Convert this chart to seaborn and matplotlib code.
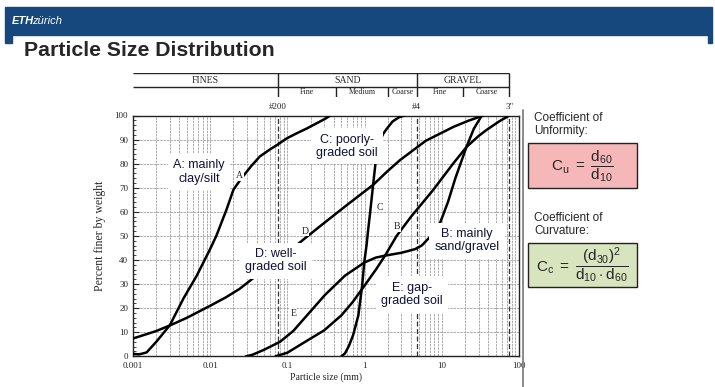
import matplotlib
matplotlib.use("Agg")
import matplotlib.pyplot as plt
import seaborn as sns
from matplotlib.patches import Rectangle
from matplotlib.lines import Line2D
from matplotlib.ticker import LogLocator, MultipleLocator, NullFormatter

# grain size curves (particle size in mm, percent finer by weight)
size_a = [0.001, 0.0012, 0.0015, 0.002, 0.003, 0.0045, 0.0067, 0.01, 0.012, 0.0163,
          0.02, 0.0255, 0.034, 0.044, 0.06, 0.073, 0.098, 0.13, 0.178, 0.24, 0.307, 0.36]
pct_a = [1.0, 0.8, 1.6, 6.0, 12.9, 24.0, 33.5, 44.6, 50.0, 61.0,
         69.2, 74.0, 79.0, 83.0, 86.0, 87.7, 90.5, 92.5, 94.6, 96.8, 98.6, 100]

size_b = [0.07, 0.1, 0.16, 0.3, 0.5, 0.7, 1.0, 1.4, 1.84, 2.6, 4.0, 7.7, 14, 21, 30, 38, 55, 75]
pct_b = [0, 1.5, 5.5, 10.8, 17.0, 22.5, 29.4, 36.0, 41.8, 50.0, 58.0, 69.0, 80.0, 87.0, 91.5, 94.0, 97.5, 100]

size_c = [0.5, 0.557, 0.63, 0.71, 0.83, 0.93, 0.99, 1.06, 1.11, 1.17, 1.29, 1.43,
          1.55, 1.75, 1.94, 2.3, 2.8, 3.3]
pct_c = [0, 1.2, 4.5, 8.8, 17.0, 29.4, 39.0, 46.2, 52.3, 58.7, 71.3, 84.3,
         89.0, 92.5, 94.5, 97.5, 99.3, 100]

size_d = [0.001, 0.0015, 0.002, 0.003, 0.005, 0.01, 0.016, 0.024, 0.031, 0.05, 0.1, 0.16,
          0.3, 0.6, 1.29, 2.0, 2.88, 6.2, 14.2, 22, 34.5]
pct_d = [7.4, 9.2, 10.5, 12.8, 16.0, 21.0, 24.5, 28.0, 30.8, 36.0, 43.0, 48.4,
         55.4, 63.0, 71.2, 77.0, 81.5, 89.5, 95.3, 97.8, 100]

size_e = [0.029, 0.035, 0.049, 0.08, 0.119, 0.196, 0.307, 0.557, 1.0, 1.4, 1.84, 3.0,
          4.5, 5.5, 7.0, 9.5, 12, 15, 20.9, 26, 33]
pct_e = [0, 0.6, 2.6, 6.0, 10.5, 18.4, 25.5, 33.5, 39.0, 41.0, 41.8, 43.0,
         44.5, 46.0, 49.5, 55.4, 64.0, 74.0, 87.0, 94.5, 100]

# soil classification boundaries (mm)
sieve_sizes = [0.075, 4.75, 75]
sieve_labels = ["#200", "#4", '3"']
main_groups = ["FINES", "SAND", "GRAVEL"]
main_bounds = [0.001, 0.075, 4.75, 75]
sub_groups = ["Fine", "Medium", "Coarse", "Fine", "Coarse"]
sub_bounds = [0.075, 0.425, 2.0, 4.75, 19, 75]

x_ticks = [0.001, 0.01, 0.1, 1, 10, 100]
x_ticklabels = ["0.001", "0.01", "0.1", "1", "10", "100"]

sns.set_style("white")
plt.rcParams['font.family'] = ['Liberation Serif', 'DejaVu Serif']
plt.rcParams['mathtext.fontset'] = 'custom'
plt.rcParams['mathtext.rm'] = 'Liberation Sans'
plt.rcParams['mathtext.it'] = 'Liberation Sans:italic'

W, H = 715, 387
fig = plt.figure(figsize=(W / 100, H / 100), dpi=100)
fig.patch.set_facecolor('white')

def fx(px):
    return px / W

def fy(py):
    return 1 - py / H

# slide header
blue = '#17487d'
fig.patches.append(Rectangle((fx(5), fy(35)), fx(707), 28 / H, color=blue, transform=fig.transFigure))
fig.patches.append(Rectangle((fx(5), fy(43)), fx(7), 8 / H, color=blue, transform=fig.transFigure))
fig.patches.append(Rectangle((fx(708), fy(43)), fx(4), 8 / H, color=blue, transform=fig.transFigure))
fig.text(fx(12), fy(21), "ETH", color='white', fontsize=8, fontweight='bold', fontstyle='italic',
         family='Liberation Sans', va='center')
fig.text(fx(32.5), fy(21), "zürich", color='white', fontsize=8, fontstyle='italic',
         family='Liberation Sans', va='center')
fig.text(fx(24), fy(51), "Particle Size Distribution", fontsize=15.3, fontweight='bold',
         family='Liberation Sans', va='center')

# main chart
x_left, x_right, y_top, y_bot = 133, 519, 115.5, 356.3
ax = fig.add_axes([fx(x_left), fy(y_bot), fx(x_right - x_left), (y_bot - y_top) / H])
ax.set_xscale('log')
ax.set_xlim(0.001, 100)
ax.set_ylim(0, 100)

curves = [(size_a, pct_a), (size_b, pct_b), (size_c, pct_c), (size_d, pct_d), (size_e, pct_e)]
for xs, ys in curves:
    sns.lineplot(x=xs, y=ys, ax=ax, color='black', linewidth=1.8, estimator=None,
                 sort=False, zorder=3)

ax.xaxis.set_minor_locator(LogLocator(base=10, subs=range(2, 10), numticks=20))
ax.xaxis.set_minor_formatter(NullFormatter())
ax.set_xticks(x_ticks)
ax.set_xticklabels(x_ticklabels)
ax.yaxis.set_major_locator(MultipleLocator(10))
ax.yaxis.set_minor_locator(MultipleLocator(2))
ax.grid(True, which='both', axis='x', color='#a0a0a0', lw=0.6, ls=(0, (3, 1)))
ax.grid(True, which='major', axis='y', color='#a0a0a0', lw=0.6, ls=(0, (3, 1)))
ax.tick_params(axis='x', which='both', length=0, labelsize=6.5, pad=4)
ax.tick_params(axis='y', which='major', direction='in', length=4, labelsize=6.5, left=True)
ax.tick_params(axis='y', which='minor', direction='in', length=2.5, left=True)
for s in ax.spines.values():
    s.set_color('#222')
    s.set_linewidth(1.0)
for v in sieve_sizes:
    ax.axvline(v, color='#333', lw=0.9, ls=(0, (4, 2)), zorder=2)

ax.set_xlabel("Particle size (mm)", fontsize=7, labelpad=2)
ax.set_ylabel("Percent finer by weight", fontsize=8.5, labelpad=6)

# curve letters
letters = [("A", 0.024, 75), ("B", 2.6, 54), ("C", 1.58, 62), ("D", 0.169, 52), ("E", 0.119, 17.7)]
for t, xv, yv in letters:
    ax.text(xv, yv, t, fontsize=7, ha='center', va='center', zorder=4,
            bbox=dict(fc='white', ec='none', pad=0.6))

# descriptive labels
notes = [("A: mainly\nclay/silt", 0.00716, 76.5), ("C: poorly-\ngraded soil", 0.592, 87.2),
         ("D: well-\ngraded soil", 0.0712, 39.7), ("B: mainly\nsand/gravel", 21.2, 48),
         ("E: gap-\ngraded soil", 4.11, 25.7)]
for t, xv, yv in notes:
    ax.text(xv, yv, t, fontsize=9, ha='center', va='center', family='Liberation Sans',
            color='#10103a', linespacing=1.15, zorder=5,
            bbox=dict(fc='white', ec='none', pad=4))

# classification header
hax = fig.add_axes([fx(x_left), fy(97), fx(x_right - x_left), 24 / H])
hax.set_xscale('log')
hax.set_xlim(0.001, 100)
hax.set_ylim(0, 1)
hax.axis('off')
y_mid = 10 / 24
hax.hlines([1, y_mid], 0.001, 75, color='#222', lw=1)
hax.vlines(main_bounds[1:], 0, 1, color='#222', lw=1)
hax.vlines([0.425, 2.0, 19], 0, y_mid, color='#222', lw=1)
for i, name in enumerate(main_groups):
    xc = (main_bounds[i] * main_bounds[i + 1]) ** 0.5
    hax.text(xc, (1 + y_mid) / 2, name, ha='center', va='center', fontsize=7)
for i, name in enumerate(sub_groups):
    xc = (sub_bounds[i] * sub_bounds[i + 1]) ** 0.5
    hax.text(xc, y_mid / 2, name, ha='center', va='center', fontsize=5.8)
for v, t in zip(sieve_sizes, sieve_labels):
    hax.text(v, -0.42, t, ha='center', va='center', fontsize=6.5)

# scan border
fig.add_artist(Line2D([fx(523), fx(523)], [fy(110), 0], color='#777', lw=1.2))

# coefficients panel
fig.text(fx(534), fy(112), "Coefficient of\nUnformity:", fontsize=8.5, family='Liberation Sans',
         va='top', ha='left', linespacing=1.1)
fig.patches.append(Rectangle((fx(528), fy(188)), fx(109), 45 / H, fc='#f5b7b7', ec='#222',
                             lw=1, transform=fig.transFigure))
fig.text(fx(582), fy(166), r'$\mathrm{C_u}\ =\ \dfrac{\mathrm{d_{60}}}{\mathrm{d_{10}}}$',
         fontsize=11, ha='center', va='center')

fig.text(fx(534), fy(212), "Coefficient of\nCurvature:", fontsize=8.5, family='Liberation Sans',
         va='top', ha='left', linespacing=1.1)
fig.patches.append(Rectangle((fx(528), fy(287)), fx(109), 44 / H, fc='#d7e4bd', ec='#222',
                             lw=1, transform=fig.transFigure))
fig.text(fx(582), fy(265),
         r'$\mathrm{C_c}\ =\ \dfrac{(\mathrm{d_{30}})^2}{\mathrm{d_{10}} \cdot \mathrm{d_{60}}}$',
         fontsize=11, ha='center', va='center')

fig.savefig("out.png", dpi=100)
